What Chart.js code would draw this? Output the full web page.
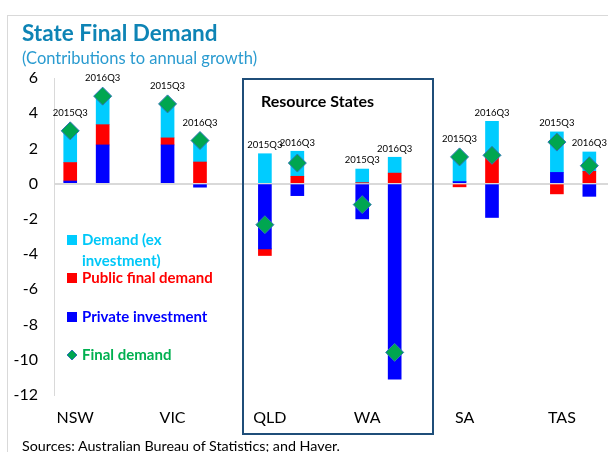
<!DOCTYPE html>
<html>
<head>
<meta charset="utf-8">
<script src="https://cdn.jsdelivr.net/npm/chart.js@4/dist/chart.umd.min.js"></script>
<style>
  html, body { margin: 0; padding: 0; background: #fff; overflow: hidden; width: 608px; height: 452px; }
  #wrap { position: relative; width: 608px; height: 452px; overflow: hidden; }
  #frame { position: absolute; left: 7px; top: 15px; width: 700px; height: 500px; border-left: 1px solid #D9D9D9; border-top: 1px solid #D9D9D9; }
  #title { position: absolute; left: 22px; top: 19px; font: bold 22.5px Lato, sans-serif; color: #0E84B5; white-space: nowrap; }
  #subtitle { position: absolute; left: 22px; top: 48px; font: 16.5px Lato, sans-serif; color: #2A9BD0; white-space: nowrap; }
  #source { position: absolute; left: 22px; top: 437px; font: 14.3px Lato, sans-serif; color: #000; white-space: nowrap; }
  #box { position: absolute; left: 242px; top: 78px; width: 188px; height: 353px; border: 2px solid #1F4E79; }
  #boxtitle { position: absolute; left: 261px; top: 91px; font: bold 16px Lato, sans-serif; color: #000; white-space: nowrap; }
  canvas { position: absolute; left: 0; top: 0; }
</style>
</head>
<body>
<div id="wrap">
  <div id="frame"></div>
  <canvas id="c" width="648" height="452"></canvas>
  <div id="box"></div>
  <div id="boxtitle">Resource States</div>
  <div id="title">State Final Demand</div>
  <div id="subtitle">(Contributions to annual growth)</div>
  <div id="source">Sources: Australian Bureau of Statistics; and Haver.</div>
</div>
<script>
// ---- data (per state: [2015Q3, 2016Q3]) ----
const states = ['NSW', 'VIC', 'QLD', 'WA', 'SA', 'TAS'];
const periods = ['2015Q3', '2016Q3'];
const privateInvestment = [[0.15, 2.2], [2.2, -0.2], [-3.7, -0.68], [-2.0, -11.1], [0.12, -1.92], [0.64, -0.72]];
const publicFinalDemand = [[1.05, 1.15], [0.4, 1.23], [-0.38, 0.42], [0.05, 0.6], [-0.18, 1.5], [-0.58, 0.7]];
const demandExInvestment = [[1.8, 1.65], [1.95, 1.22], [1.7, 1.42], [0.78, 0.9], [1.36, 2.04], [2.3, 1.1]];
const finalDemand = [[3.0, 4.97], [4.53, 2.45], [-2.33, 1.17], [-1.19, -9.58], [1.52, 1.61], [2.36, 1.02]];
const yTicks = { min: -12, max: 6, step: 2 };

// slots: each state gets [2015Q3, 2016Q3, gap]
const slotLabels = [];
const slotPeriods = [];
function toSlots(arr) {
  const out = [];
  arr.forEach(pair => { out.push(pair[0], pair[1], null); });
  return out;
}
states.forEach(s => { slotLabels.push(s, '', ''); slotPeriods.push(periods[0], periods[1], null); });

const blueS = toSlots(privateInvestment);
const redS = toSlots(publicFinalDemand);
const cyanS = toSlots(demandExInvestment);
const fdS = toSlots(finalDemand);

const FONT = 'Lato, sans-serif';

const periodLabelPlugin = {
  id: 'periodLabels',
  afterDatasetsDraw(chart) {
    const ctx = chart.ctx;
    const x = chart.scales.x, y = chart.scales.y;
    ctx.save();
    ctx.font = '9.5px ' + FONT;
    ctx.fillStyle = '#000';
    ctx.textAlign = 'center';
    ctx.textBaseline = 'bottom';
    slotPeriods.forEach((p, i) => {
      if (!p) return;
      let pos = 0;
      [blueS[i], redS[i], cyanS[i]].forEach(v => { if (v > 0) pos += v; });
      const topBar = y.getPixelForValue(pos);
      const topDia = y.getPixelForValue(fdS[i]) - 9;
      const top = Math.min(topBar, topDia);
      ctx.fillText(p, x.getPixelForValue(i), top - 4);
    });
    ctx.restore();
  }
};

const legendPlugin = {
  id: 'customLegend',
  afterDraw(chart) {
    const ctx = chart.ctx;
    ctx.save();
    ctx.font = 'bold 15px ' + FONT;
    ctx.textBaseline = 'middle';
    ctx.textAlign = 'left';
    const items = [
      { lines: ['Demand (ex', 'investment)'], color: '#00C8F8', box: '#00CCFF', y: 240 },
      { lines: ['Public final demand'], color: '#FF0000', box: '#FF0000', y: 278 },
      { lines: ['Private investment'], color: '#0000FF', box: '#0000FF', y: 317 },
      { lines: ['Final demand'], color: '#00B050', box: null, y: 355 }
    ];
    items.forEach(it => {
      if (it.box) {
        ctx.fillStyle = it.box;
        ctx.fillRect(67, it.y - 5, 10, 10);
      } else {
        ctx.fillStyle = '#00A650';
        ctx.strokeStyle = '#2E75B6';
        ctx.lineWidth = 1;
        ctx.beginPath();
        ctx.moveTo(72, it.y - 5); ctx.lineTo(77, it.y); ctx.lineTo(72, it.y + 5); ctx.lineTo(67, it.y);
        ctx.closePath(); ctx.fill(); ctx.stroke();
      }
      ctx.fillStyle = it.color;
      it.lines.forEach((t, k) => ctx.fillText(t, 82, it.y + k * 21));
    });
    ctx.restore();
  }
};

new Chart(document.getElementById('c'), {
  type: 'bar',
  data: {
    labels: slotLabels,
    datasets: [
      { label: 'Private investment', data: blueS, backgroundColor: '#0000FF', barThickness: 13, order: 1 },
      { label: 'Public final demand', data: redS, backgroundColor: '#FF0000', barThickness: 13, order: 1 },
      { label: 'Demand (ex investment)', data: cyanS, backgroundColor: '#00CCFF', barThickness: 13, order: 1 },
      { type: 'line', label: 'Final demand', data: fdS, showLine: false, stack: 'fd', order: 0,
        pointStyle: 'rectRot', pointRadius: 9, pointHoverRadius: 9,
        pointBackgroundColor: '#00A650', pointBorderColor: '#2E75B6', pointBorderWidth: 1 }
    ]
  },
  options: {
    responsive: false,
    animation: false,
    events: [],
    layout: { padding: { top: 78, left: 0, right: 0, bottom: 0 } },
    plugins: { legend: { display: false }, tooltip: { enabled: false } },
    scales: {
      x: {
        stacked: true,
        offset: true,
        grid: { display: false, drawTicks: false },
        border: { display: false },
        ticks: { autoSkip: false, maxRotation: 0, minRotation: 0, padding: 13, labelOffset: 5,
          color: '#000', font: { family: FONT, size: 16 } },
        afterFit(s) { s.height = 57; }
      },
      y: {
        stacked: true,
        min: yTicks.min, max: yTicks.max,
        grid: { drawTicks: false, lineWidth: 2,
          color: c => (c.tick && c.tick.value === 0) ? '#D9D9D9' : 'rgba(0,0,0,0)' },
        border: { display: true, color: '#D9D9D9', width: 1 },
        ticks: { stepSize: yTicks.step, padding: 16, color: '#000', font: { family: FONT, size: 16 } },
        afterFit(s) { s.width = 54; }
      }
    }
  },
  plugins: [periodLabelPlugin, legendPlugin]
});
</script>
</body>
</html>
